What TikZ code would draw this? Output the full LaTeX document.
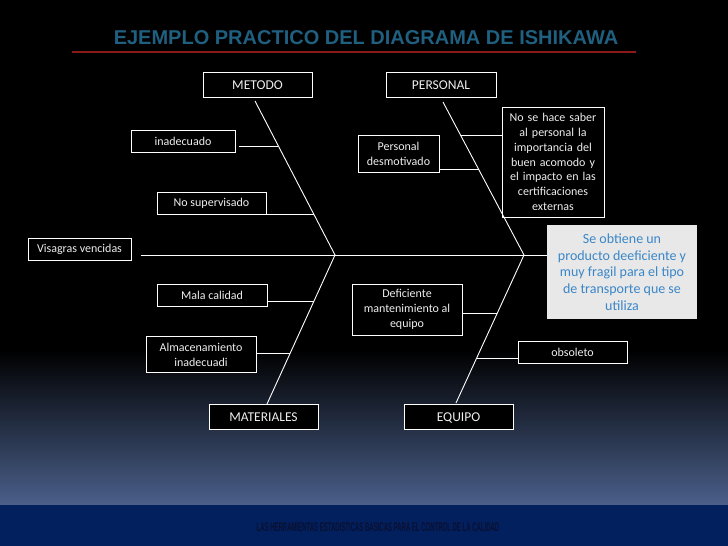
\documentclass[tikz,border=0pt]{standalone}
\usepackage{fontspec}
\usetikzlibrary{calc}
\newfontfamily\carlito{Carlito}
\newfontfamily\titlefont{Liberation Sans}
\newfontfamily\footfont[FakeStretch=0.48]{Liberation Sans}
\definecolor{titleblue}{HTML}{1F5F80}
\definecolor{redline}{HTML}{8B1A1A}
\definecolor{slate}{HTML}{4A5F8A}
\definecolor{midslate}{HTML}{1E2638}
\definecolor{navy}{HTML}{021F5E}
\definecolor{resfill}{HTML}{E8E8E8}
\definecolor{restext}{HTML}{3A86C8}
\definecolor{boxtext}{HTML}{EEEEEE}
\definecolor{foottext}{HTML}{0A1030}
\tikzset{
  cbox/.style={draw=white, fill=black, text=boxtext, line width=1pt, inner sep=0pt,
    align=center, font=\carlito\fontsize{12}{14.8}\selectfont},
  catbox/.style={cbox, font=\carlito\fontsize{13.5}{16}\selectfont, text height=9.5pt, text depth=0pt},
  bone/.style={draw=white, line width=0.9pt},
}
\begin{document}
\begin{tikzpicture}[x=1pt,y=-1pt]
\useasboundingbox (0,0) rectangle (728,546);
\fill[black] (0,0) rectangle (728,351);
\shade[top color=black, middle color=midslate, bottom color=slate] (0,350) rectangle (728,505);
\fill[navy] (0,505) rectangle (728,546);

% title
\node[font=\titlefont\bfseries\fontsize{20}{22}\selectfont, text=titleblue] (title) at (366,38) {EJEMPLO PRACTICO DEL DIAGRAMA DE ISHIKAWA};
\coordinate (rl) at (72,52);
\coordinate (rr) at (636,52);
\draw[redline, line width=1.2pt] (rl) -- (rr);

% category boxes
\node[catbox, minimum width=109, minimum height=25] (metodo) at (257.5,84.5) {METODO};
\node[catbox, minimum width=110, minimum height=25] (personal) at (441,84.5) {PERSONAL};
\node[catbox, minimum width=109, minimum height=25] (materiales) at (263.5,416.5) {MATERIALES};
\node[catbox, minimum width=109, minimum height=25] (equipo) at (458.5,416.5) {EQUIPO};

% cause boxes
\node[cbox, minimum width=104, minimum height=22] (inad) at (183,141) {inadecuado};
\node[cbox, minimum width=109, minimum height=22] (nosup) at (211.5,203) {No supervisado};
\node[cbox, minimum width=103, minimum height=22] (visag) at (79.5,249) {Visagras vencidas};
\node[cbox, minimum width=81, minimum height=37] (persdes) at (398.5,153.5) {Personal\\desmotivado};
\node[cbox, minimum width=102, minimum height=110, text width=100] (nosehace) at (553,162) {No se hace saber\\al personal la\\importancia del\\buen acomodo y\\el impacto en las\\certificaciones\\externas};
\node[cbox, minimum width=110, minimum height=22] (mala) at (212,295) {Mala calidad};
\node[cbox, minimum width=110, minimum height=36] (almac) at (201,354.5) {Almacenamiento\\inadecuadi};
\node[cbox, minimum width=110, minimum height=51] (defic) at (407,309.5) {Deficiente\\mantenimiento al\\equipo};
\node[cbox, minimum width=109, minimum height=22] (obsol) at (572.5,352) {obsoleto};

% result
\node[fill=resfill, text=restext, inner sep=0pt, align=center, minimum width=150, minimum height=94,
  font=\carlito\fontsize{14}{16.8}\selectfont] (result) at (622,272) {Se obtiene un\\producto deeficiente y\\muy fragil para el tipo\\de transporte que se\\utiliza};

% bones
\coordinate (v1) at (335,255);
\coordinate (v2) at (524,255);
\coordinate (mtop) at (255,101);
\coordinate (ptop) at (443,102);
\coordinate (mbot) at (267,404);
\coordinate (ebot) at (456,403);
\draw[bone] (mtop) -- (v1) -- (mbot);
\draw[bone] (ptop) -- (v2) -- (ebot);
\draw[bone] ($(visag.east |- v1)+(9,0)$) -- (result.west |- v1);

% branch points on bones
\coordinate (b1) at (278.4,146);
\coordinate (b2) at (313.7,214);
\coordinate (b3) at (314,301);
\coordinate (b4) at (290.3,353);
\coordinate (b5) at (460.5,135);
\coordinate (b6) at (478.5,169);
\coordinate (b7) at (497.4,313);
\coordinate (b8) at (476.7,358);
\draw[bone] ($(inad.east |- b1)+(3,0)$) -- (b1);
\draw[bone] (nosup.east |- b2) -- (b2);
\draw[bone] (mala.east |- b3) -- (b3);
\draw[bone] (almac.east |- b4) -- (b4);
\draw[bone] (b5) -- (nosehace.west |- b5);
\draw[bone] (persdes.east |- b6) -- (b6);
\draw[bone] (defic.east |- b7) -- (b7);
\draw[bone] (b8) -- (obsol.west |- b8);

% footer
\node[font=\footfont\bfseries\fontsize{12.5}{14}\selectfont, text=foottext] (foot) at (378,527) {LAS HERRAMIENTAS ESTADISTICAS BASICAS PARA EL CONTROL DE LA CALIDAD};
\end{tikzpicture}
\end{document}
